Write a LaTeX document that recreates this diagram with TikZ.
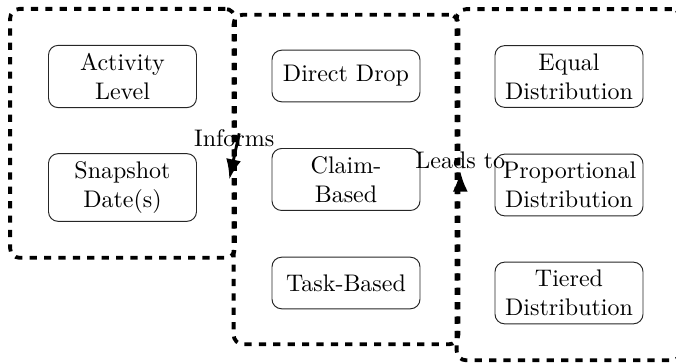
\documentclass[tikz,border=0pt]{standalone}
\usetikzlibrary{fit,arrows.meta}
\begin{document}
\begin{tikzpicture}[x=0.416667pt,y=-0.416667pt,
  item/.style={draw=black!85, rounded corners=4pt, text width=55pt, align=center, minimum height=21.5pt, inner sep=3.33pt},
  group/.style={draw, dashed, ultra thick, rounded corners=4pt, inner xsep=15.8pt, inner ysep=15pt},
  link/.style={-{Latex}, very thick}]
\useasboundingbox (0,0) rectangle (676,364);
\node[item] (act) at (122.5,76.5) {Activity Level};
\node[item] (snap) at (122.5,187.5) {Snapshot Date(s)};
\node[item] (direct) at (346,76) {Direct Drop};
\node[item] (claim) at (346,179.5) {Claim-Based};
\node[item] (task) at (346,283) {Task-Based};
\node[item] (equal) at (569,76.5) {Equal Distribution};
\node[item] (prop) at (569,185) {Proportional Distribution};
\node[item] (tier) at (569,293) {Tiered Distribution};
\node[group, fit=(act)(snap)] (g1) {};
\node[group, inner ysep=14.6pt, fit=(direct)(claim)(task)] (g2) {};
\node[group, fit=(equal)(prop)(tier)] (g3) {};
\draw[link] ([xshift=1pt]g1.east) -- node[above] {Informs} ([xshift=-1pt]g2.west);
\draw[link] (g2.east) -- node[above, pos=0.2] {Leads to} ++(0,-8);
\end{tikzpicture}
\end{document}
